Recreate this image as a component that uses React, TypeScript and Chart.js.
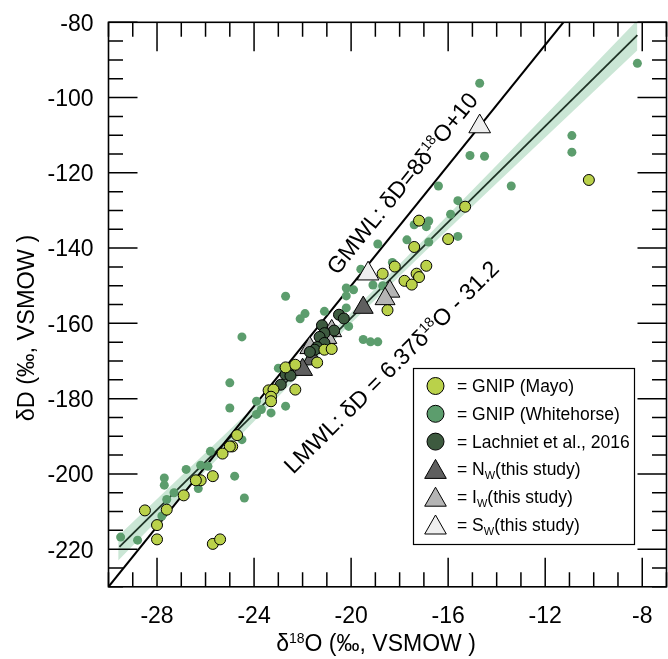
import { useEffect, useRef } from 'react';
import { Chart, registerables } from 'chart.js';

Chart.register(...registerables);

// ---- data ----
const mayoX = [-10.2, -15.3, -17.2, -16.0, -17.4, -16.9, -18.2, -18.7, -17.3, -17.2, -17.8, -17.5, -18.5, -21.1, -20.8, -21.4, -22.7, -22.3, -22.3, -23.4, -23.2, -23.3, -23.3, -24.7, -24.9, -25.0, -25.3, -25.7, -26.2, -26.4, -26.9, -27.6, -28.0, -28.5, -28.0, -25.7, -25.4];
const mayoY = [-121.9, -129.0, -132.7, -137.6, -139.7, -144.7, -144.9, -146.8, -146.8, -147.7, -148.7, -149.7, -156.5, -167.0, -166.8, -170.4, -171.7, -171.0, -177.6, -177.8, -177.6, -179.5, -180.7, -189.7, -192.7, -192.7, -194.6, -200.6, -201.7, -201.7, -205.7, -209.5, -213.6, -209.7, -217.4, -218.6, -217.4];

const whX = [-8.2, -14.7, -10.9, -10.9, -15.1, -14.5, -16.4, -13.4, -15.6, -15.9, -16.8, -17.4, -16.9, -17.7, -16.8, -15.6, -18.9, -19.6, -18.3, -19.1, -18.7, -22.7, -21.9, -22.1, -21.1, -24.5, -19.5, -19.2, -18.9, -23.0, -25.0, -25.0, -22.7, -23.9, -23.3, -23.7, -20.2, -19.9, -20.2, -20.2, -20.1, -23.9, -24.5, -24.8, -24.4, -25.8, -25.9, -26.2, -26.3, -26.8, -27.7, -27.7, -27.3, -27.6, -27.8, -28.8, -29.5];
const whY = [-90.9, -96.2, -110.1, -114.5, -115.4, -115.6, -123.5, -123.5, -127.4, -131.0, -132.8, -133.8, -134.3, -137.8, -138.4, -136.9, -138.9, -145.6, -143.8, -149.8, -150.0, -152.8, -157.4, -158.8, -156.8, -163.6, -164.3, -164.9, -164.9, -171.9, -175.8, -182.5, -182.0, -184.2, -183.8, -182.9, -150.6, -151.1, -152.7, -155.9, -160.8, -180.7, -190.9, -200.6, -206.4, -194.0, -198.0, -197.7, -203.9, -198.8, -201.1, -203.0, -205.0, -206.8, -211.2, -217.6, -216.8];

const lachX = [-20.5, -20.3, -21.2, -20.7, -21.1, -21.3, -21.1, -21.4, -21.5, -21.7, -22.6, -22.7, -22.5, -22.9];
const lachY = [-157.7, -158.7, -160.5, -161.9, -162.6, -163.6, -165.2, -166.3, -167.0, -167.6, -172.3, -173.6, -173.9, -176.3];

const nwX = [-19.5, -21.6, -22.0];
const nwY = [-155.8, -169.5, -172.3];
const iwX = [-18.4, -18.6, -20.8, -21.0, -21.7];
const iwY = [-151.5, -153.5, -162.0, -163.8, -166.5];
const swX = [-14.7, -19.3];
const swY = [-107.7, -146.8];

const gmwlX = [-30, -11.25];
const gmwlY = [-230, -80];
const lmwlX = [-29.55, -8.2];
const lmwlY = [-219.4, -83.4];

const bandX = [-29.6, -26, -23, -20, -17, -14, -11, -8.2];
const bandUpper = [-216.5, -194.4, -176.0, -157.2, -137.8, -118.0, -98.1, -79.4];
const bandLower = [-223.0, -199.2, -179.4, -160.0, -141.2, -122.8, -104.5, -87.4];

const xTickLabels = [-28, -24, -20, -16, -12, -8];
const yTickLabels = [-220, -200, -180, -160, -140, -120, -100, -80];

const FONT = '"Liberation Sans", Arial, sans-serif';

const pts = (xs: number[], ys: number[]) => xs.map((x, i) => ({ x, y: ys[i] }));

type Seg = { t: string; sup?: boolean; sub?: boolean };

function segWidth(ctx: CanvasRenderingContext2D, segs: Seg[], size: number) {
  let w = 0;
  for (const s of segs) {
    ctx.font = `${s.sup || s.sub ? Math.round(size * 0.62) : size}px ${FONT}`;
    w += ctx.measureText(s.t).width;
  }
  return w;
}

function drawSegs(ctx: CanvasRenderingContext2D, segs: Seg[], x0: number, baseline: number, size: number) {
  ctx.textAlign = 'left';
  ctx.textBaseline = 'alphabetic';
  let xx = x0;
  for (const s of segs) {
    const small = s.sup || s.sub;
    ctx.font = `${small ? Math.round(size * 0.62) : size}px ${FONT}`;
    const dy = s.sup ? -size * 0.36 : s.sub ? size * 0.22 : 0;
    ctx.fillText(s.t, xx, baseline + dy);
    xx += ctx.measureText(s.t).width;
  }
}

function drawCentered(ctx: CanvasRenderingContext2D, segs: Seg[], cx: number, cy: number, size: number, angle: number) {
  ctx.save();
  ctx.translate(cx, cy);
  ctx.rotate(angle);
  const w = segWidth(ctx, segs, size);
  drawSegs(ctx, segs, -w / 2, size * 0.36, size);
  ctx.restore();
}

const framePlugin = {
  id: 'frameTicks',
  afterDraw(chart: any) {
    const { ctx, chartArea, scales } = chart;
    const { left, right, top, bottom } = chartArea;
    const xs = scales.x;
    const ys = scales.y;
    ctx.save();
    ctx.strokeStyle = '#000';
    ctx.lineWidth = 1.6;
    ctx.strokeRect(left, top, right - left, bottom - top);
    ctx.lineWidth = 1.5;
    ctx.beginPath();
    for (let v = -30; v <= -7; v++) {
      const px = xs.getPixelForValue(v);
      const len = Math.abs(v) % 4 === 0 ? 29 : 14.5;
      ctx.moveTo(px, bottom);
      ctx.lineTo(px, bottom - len);
      ctx.moveTo(px, top);
      ctx.lineTo(px, top + len);
    }
    for (let v = -230; v <= -80; v += 5) {
      const py = ys.getPixelForValue(v);
      const len = Math.abs(v) % 20 === 0 ? 29 : 14.5;
      ctx.moveTo(left, py);
      ctx.lineTo(left + len, py);
      ctx.moveTo(right, py);
      ctx.lineTo(right - len, py);
    }
    ctx.stroke();

    ctx.fillStyle = '#000';
    ctx.font = `23px ${FONT}`;
    ctx.textAlign = 'center';
    ctx.textBaseline = 'middle';
    for (const v of xTickLabels) {
      ctx.fillText(String(v), xs.getPixelForValue(v), bottom + 30);
    }
    ctx.textAlign = 'right';
    for (const v of yTickLabels) {
      ctx.fillText(String(v), left - 15, ys.getPixelForValue(v) + 2);
    }

    // axis titles
    drawCentered(ctx, [{ t: 'δ' }, { t: '18', sup: true }, { t: 'O (‰, VSMOW )' }], 376, 643, 23, 0);
    drawCentered(ctx, [{ t: 'δD (‰, VSMOW )' }], 26, 328, 23.5, -Math.PI / 2);

    // line annotations
    const ang = (ax: number[], ay: number[]) =>
      Math.atan2(ys.getPixelForValue(ay[1]) - ys.getPixelForValue(ay[0]), xs.getPixelForValue(ax[1]) - xs.getPixelForValue(ax[0]));
    drawCentered(
      ctx,
      [{ t: 'GMWL: δD=8δ' }, { t: '18', sup: true }, { t: 'O+10' }],
      xs.getPixelForValue(-17.91),
      ys.getPixelForValue(-122.7),
      23,
      ang(gmwlX, gmwlY)
    );
    drawCentered(
      ctx,
      [{ t: 'LMWL: δD = 6.37δ' }, { t: '18', sup: true }, { t: 'O - 31.2' }],
      xs.getPixelForValue(-18.36),
      ys.getPixelForValue(-171.5),
      23,
      ang(lmwlX, lmwlY)
    );

    // legend
    const bx = 413, by = 368, bw = 221, bh = 176;
    ctx.fillStyle = '#fff';
    ctx.fillRect(bx, by, bw, bh);
    ctx.strokeStyle = '#000';
    ctx.lineWidth = 1.2;
    ctx.strokeRect(bx + 0.5, by + 0.5, bw, bh);
    const rows: { kind: 'c' | 't'; color: string; segs: Seg[] }[] = [
      { kind: 'c', color: '#bad14a', segs: [{ t: '= GNIP (Mayo)' }] },
      { kind: 'c', color: '#5c9d6d', segs: [{ t: '= GNIP (Whitehorse)' }] },
      { kind: 'c', color: '#3d5a3f', segs: [{ t: '= Lachniet et al., 2016' }] },
      { kind: 't', color: '#5f5f5f', segs: [{ t: '= N' }, { t: 'W', sub: true }, { t: '(this study)' }] },
      { kind: 't', color: '#b5b5b5', segs: [{ t: '= I' }, { t: 'W', sub: true }, { t: '(this study)' }] },
      { kind: 't', color: '#efefef', segs: [{ t: '= S' }, { t: 'W', sub: true }, { t: '(this study)' }] },
    ];
    rows.forEach((r, i) => {
      const cy = 386 + i * 27.8;
      const cx = 435.5;
      ctx.beginPath();
      if (r.kind === 'c') {
        ctx.arc(cx, cy, 8.5, 0, Math.PI * 2);
      } else {
        const rr = 12;
        ctx.moveTo(cx, cy - rr + 2);
        ctx.lineTo(cx + rr * 0.9, cy + rr * 0.75);
        ctx.lineTo(cx - rr * 0.9, cy + rr * 0.75);
        ctx.closePath();
      }
      ctx.fillStyle = r.color;
      ctx.fill();
      ctx.lineWidth = 1;
      ctx.strokeStyle = '#000';
      ctx.stroke();
      ctx.fillStyle = '#000';
      drawSegs(ctx, r.segs, 457, cy + 6, 17.5);
    });
    ctx.restore();
  },
};

export default function App() {
  const ref = useRef<HTMLCanvasElement | null>(null);
  useEffect(() => {
    if (!ref.current) return;
    const chart = new Chart(ref.current, {
      type: 'scatter',
      data: {
        datasets: [
          {
            type: 'line',
            data: pts(bandX, bandUpper),
            fill: '+1',
            backgroundColor: 'rgba(150, 205, 172, 0.5)',
            borderWidth: 0,
            pointRadius: 0,
            order: 20,
          } as any,
          {
            type: 'line',
            data: pts(bandX, bandLower),
            fill: false,
            borderWidth: 0,
            borderColor: 'rgba(0,0,0,0)',
            pointRadius: 0,
            order: 21,
          } as any,
          {
            type: 'line',
            data: pts(lmwlX, lmwlY),
            borderColor: '#1f3326',
            borderWidth: 1.8,
            pointRadius: 0,
            fill: false,
            order: 15,
          } as any,
          {
            type: 'line',
            data: pts(gmwlX, gmwlY),
            borderColor: '#000',
            borderWidth: 2,
            pointRadius: 0,
            fill: false,
            order: 14,
          } as any,
          {
            data: pts(whX, whY),
            pointStyle: 'circle',
            pointRadius: 4.5,
            backgroundColor: '#5c9d6d',
            borderWidth: 0,
            order: 10,
          },
          {
            data: pts(iwX, iwY),
            pointStyle: 'triangle',
            pointRadius: 11.5,
            backgroundColor: '#b5b5b5',
            borderColor: '#000',
            borderWidth: 1,
            order: 8,
          },
          {
            data: pts(nwX, nwY),
            pointStyle: 'triangle',
            pointRadius: 11.5,
            backgroundColor: '#5f5f5f',
            borderColor: '#000',
            borderWidth: 1,
            order: 7,
          },
          {
            data: pts(swX, swY),
            pointStyle: 'triangle',
            pointRadius: 12.5,
            backgroundColor: '#efefef',
            borderColor: '#000',
            borderWidth: 1,
            order: 6,
          },
          {
            data: pts(lachX, lachY),
            pointStyle: 'circle',
            pointRadius: 5.5,
            backgroundColor: '#3d5a3f',
            borderColor: '#000',
            borderWidth: 1,
            order: 5,
          },
          {
            data: pts(mayoX, mayoY),
            pointStyle: 'circle',
            pointRadius: 5.5,
            backgroundColor: '#bad14a',
            borderColor: '#000',
            borderWidth: 1,
            order: 4,
          },
        ],
      },
      options: {
        animation: false,
        responsive: false,
        devicePixelRatio: 1,
        layout: { padding: { left: 108.5, top: 22.3, right: 7.4, bottom: 72.2 } },
        scales: {
          x: { type: 'linear', min: -30, max: -7, display: false },
          y: { type: 'linear', min: -230, max: -80, display: false },
        },
        plugins: {
          legend: { display: false },
          tooltip: { enabled: false },
          title: { display: false },
        },
        events: [],
      },
      plugins: [framePlugin],
    });
    return () => chart.destroy();
  }, []);
  return (
    <div style={{ position: 'fixed', left: 0, top: 0, width: 668, height: 659, overflow: 'hidden', background: '#fff' }}>
      <canvas ref={ref} width={680} height={659} style={{ display: 'block', width: 680, height: 659 }} />
    </div>
  );
}
